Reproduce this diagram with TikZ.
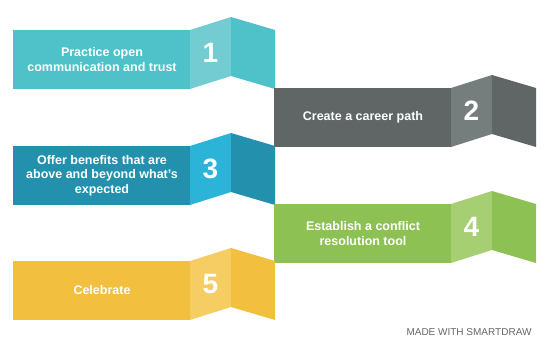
\documentclass[tikz,border=0pt]{standalone}
\usepackage{fontspec}
\setmainfont{Liberation Sans}
\definecolor{c1}{HTML}{4FC1C8}\definecolor{l1}{HTML}{72CCD1}
\definecolor{c2}{HTML}{606666}\definecolor{l2}{HTML}{767D7D}
\definecolor{c3}{HTML}{2391AE}\definecolor{l3}{HTML}{2BB4D8}
\definecolor{c4}{HTML}{8DC153}\definecolor{l4}{HTML}{A6CE72}
\definecolor{c5}{HTML}{F2BF3E}\definecolor{l5}{HTML}{F5CD63}
\definecolor{wm}{HTML}{666666}
\tikzset{
  lbl/.style={text=white,font=\bfseries\fontsize{12.5}{14.5}\selectfont,align=center,inner sep=0pt},
  num/.style={text=white,font=\bfseries\fontsize{28}{30}\selectfont,inner sep=0pt},
}
\newcommand{\myribbon}[7]{%
  % #1 x0, #2 y0, #3 main, #4 light, #5 text, #6 number, #7 name
  \fill[#3] (#1,#2) rectangle ++(177,59);
  \fill[#4] (#1+177,#2) -- (#1+218,#2-13) -- (#1+218,#2+46) -- (#1+177,#2+59) -- cycle;
  \fill[#3] (#1+218,#2-13) -- (#1+262,#2) -- (#1+262,#2+59) -- (#1+218,#2+46) -- cycle;
  \node[lbl] (t#7) at (#1+89,#2+29.5) {#5};
  \node[num] (n#7) at (#1+197.5,#2+23) {#6};
}
\begin{document}
\begin{tikzpicture}[x=1pt,y=-1pt]
\useasboundingbox (0,0) rectangle (550,357);
\myribbon{13}{30}{c1}{l1}{Practice open\\communication and trust}{1}{a}
\myribbon{274}{88}{c2}{l2}{Create a career path}{2}{b}
\myribbon{13}{146}{c3}{l3}{Offer benefits that are\\above and beyond what's\\expected}{3}{c}
\myribbon{274}{204}{c4}{l4}{Establish a conflict\\resolution tool}{4}{d}
\myribbon{13}{261}{c5}{l5}{Celebrate}{5}{e}
\node[text=wm,font=\fontsize{10}{12}\selectfont,inner sep=0pt] (wmk) at (469,332) {MADE WITH SMARTDRAW};
\end{tikzpicture}
\end{document}
